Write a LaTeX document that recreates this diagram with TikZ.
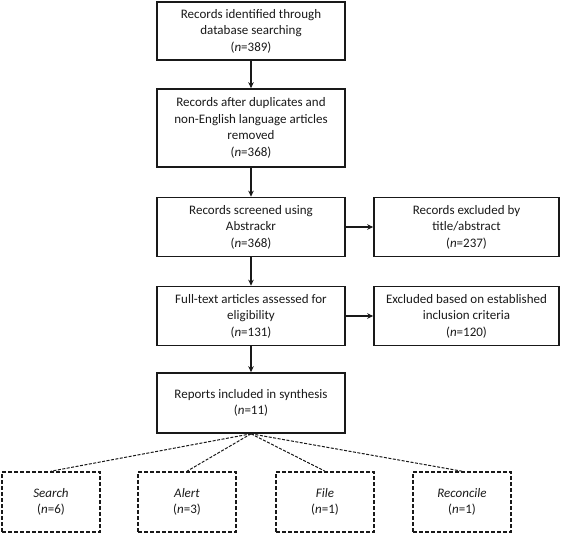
\documentclass[tikz,border=0pt]{standalone}
\usepackage{fontspec}
\setmainfont{Carlito}
\usetikzlibrary{arrows.meta}
\begin{document}
\begin{tikzpicture}[x=1pt,y=-1pt,
  box/.style={draw=black!90, line width=1.6pt, align=center, inner sep=0pt,
    font=\fontsize{13}{16.5}\selectfont, text=black!90,
    minimum width=188pt},
  sbox/.style={box, minimum width=185pt},
  dbox/.style={box, dash pattern=on 4pt off 2pt, minimum width=98pt, minimum height=60pt},
  arr/.style={draw=black!90, line width=1.8pt, -{Stealth[length=6pt,width=5.5pt]}},
  dline/.style={draw=black!90, line width=1pt, dash pattern=on 3pt off 1.5pt}]
\useasboundingbox (0,0) rectangle (562,533);
\node[box, minimum height=58pt] (b1) at (251,31)
  {Records identified through\\database searching\\(\textit{n}=389)};
\node[box, minimum height=78pt] (b2) at (251,128)
  {Records after duplicates and\\non-English language articles\\removed\\(\textit{n}=368)};
\node[box, minimum height=59pt] (b3) at (251,227)
  {Records screened using\\Abstrackr\\(\textit{n}=368)};
\node[box, minimum height=59pt] (b4) at (251,316)
  {Full-text articles assessed for\\eligibility\\(\textit{n}=131)};
\node[box, minimum height=60pt] (b5) at (251,403)
  {Reports included in synthesis\\(\textit{n}=11)};
\node[sbox, minimum height=59pt] (r1) at (466.5,227)
  {Records excluded by\\title/abstract\\(\textit{n}=237)};
\node[sbox, minimum height=59pt] (r2) at (466.5,316)
  {Excluded based on established\\inclusion criteria\\(\textit{n}=120)};
\node[dbox] (d1) at (51,502) {\textit{Search}\\(\textit{n}=6)};
\node[dbox] (d2) at (187,502) {\textit{Alert}\\(\textit{n}=3)};
\node[dbox] (d3) at (325,502) {\textit{File}\\(\textit{n}=1)};
\node[dbox] (d4) at (462,502) {\textit{Reconcile}\\(\textit{n}=1)};
\draw[arr] (b1) -- (b2);
\draw[arr] (b2) -- (b3);
\draw[arr] (b3) -- (b4);
\draw[arr] (b4) -- (b5);
\draw[arr] (b3) -- (r1);
\draw[arr] (b4) -- (r2);
\foreach \d in {d1,d2,d3,d4} \draw[dline] (b5.south) -- (\d.north);
\end{tikzpicture}
\end{document}
